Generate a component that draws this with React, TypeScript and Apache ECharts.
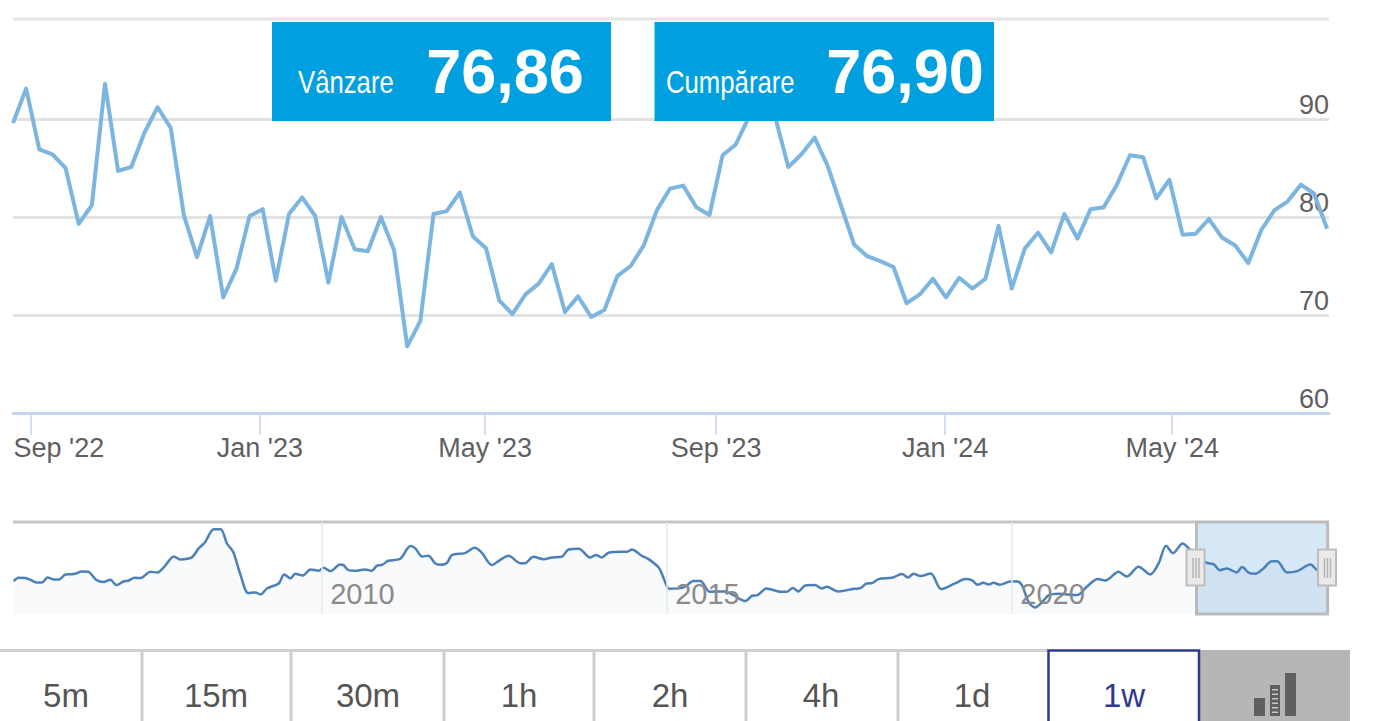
import React, { useEffect, useRef } from "react";
import * as echarts from "echarts";

const priceValues = [
  89.6, 93.1, 86.9, 86.4, 85.0, 79.3, 81.2, 93.6, 84.7, 85.1, 88.6, 91.2, 89.1, 80.2, 75.9, 80.1, 71.8,
  74.7, 80.1, 80.8, 73.5, 80.3, 82.0, 80.1, 73.3, 80.0, 76.7, 76.5, 80.0, 76.6, 66.8, 69.4, 80.3, 80.6,
  82.5, 78.0, 76.8, 71.5, 70.1, 72.1, 73.2, 75.2, 70.3, 71.9, 69.8, 70.5, 74.0, 75.0, 77.1, 80.7, 82.9,
  83.2, 81.0, 80.2, 86.3, 87.4, 90.2, 91.3, 90.2, 85.1, 86.4, 88.1, 85.2, 81.2, 77.2, 76.0, 75.5, 74.9,
  71.2, 72.1, 73.7, 71.8, 73.8, 72.7, 73.7, 79.1, 72.7, 76.8, 78.4, 76.4, 80.3, 77.8, 80.8, 81.0, 83.3,
  86.3, 86.1, 81.9, 83.8, 78.2, 78.3, 79.8, 77.9, 77.1, 75.3, 78.7, 80.7, 81.6, 83.3, 82.4, 78.8,
];
const xTickDates = [
  [2022, 8, 1],
  [2023, 0, 1],
  [2023, 4, 1],
  [2023, 8, 1],
  [2024, 0, 1],
  [2024, 4, 1],
];
const xTickLabels = ["Sep '22", "Jan '23", "May '23", "Sep '23", "Jan '24", "May '24"];
const yTickValues = [60, 70, 80, 90];

const navYears = [
  2005.53, 2005.6, 2005.7, 2005.77, 2005.86, 2005.94, 2006.02, 2006.11, 2006.19, 2006.28, 2006.4, 2006.52,
  2006.61, 2006.73, 2006.83, 2006.93, 2007.02, 2007.12, 2007.19, 2007.28, 2007.37, 2007.51, 2007.61, 2007.72,
  2007.85, 2007.94, 2008.11, 2008.21, 2008.3, 2008.43, 2008.53, 2008.62, 2008.71, 2008.81, 2008.93, 2009.03,
  2009.11, 2009.2, 2009.37, 2009.45, 2009.54, 2009.61, 2009.72, 2009.83, 2009.95, 2010.02, 2010.12, 2010.26,
  2010.31, 2010.38, 2010.5, 2010.62, 2010.72, 2010.79, 2010.87, 2010.96, 2011.13, 2011.28, 2011.35, 2011.45,
  2011.54, 2011.64, 2011.73, 2011.81, 2011.88, 2012.07, 2012.21, 2012.31, 2012.46, 2012.56, 2012.7, 2012.87,
  2012.94, 2013.06, 2013.21, 2013.33, 2013.47, 2013.57, 2013.72, 2013.88, 2013.97, 2014.05, 2014.15, 2014.32,
  2014.42, 2014.49, 2014.63, 2014.73, 2014.88, 2014.95, 2015.03, 2015.24, 2015.38, 2015.48, 2015.62, 2015.84,
  2015.96, 2016.13, 2016.23, 2016.31, 2016.44, 2016.64, 2016.73, 2016.82, 2016.9, 2017.0, 2017.14, 2017.24,
  2017.31, 2017.48, 2017.7, 2017.8, 2017.89, 2017.97, 2018.06, 2018.26, 2018.4, 2018.49, 2018.57, 2018.67,
  2018.82, 2018.97, 2019.17, 2019.32, 2019.42, 2019.5, 2019.58, 2019.66, 2019.73, 2019.82, 2019.97, 2020.07,
  2020.14, 2020.24, 2020.33, 2020.43, 2020.53, 2020.67, 2020.94, 2021.08, 2021.24, 2021.35, 2021.54, 2021.66,
  2021.83, 2022.0, 2022.12, 2022.23, 2022.33, 2022.47, 2022.56, 2022.72, 2022.82, 2022.92, 2023.01, 2023.11,
  2023.25, 2023.33, 2023.43, 2023.52, 2023.64, 2023.76, 2023.84, 2023.98, 2024.13, 2024.32, 2024.42, 2024.59,
];
const navValues = [
  62.9, 67.8, 67.3, 64.9, 61.0, 61.0, 68.2, 65.3, 65.3, 72.6, 73.1, 77.0,
  76.5, 64.4, 61.5, 64.9, 57.1, 62.4, 63.4, 67.8, 67.3, 76.5, 75.5, 84.7,
  98.8, 94.5, 97.4, 110.5, 119.2, 138.6, 138.6, 117.7, 105.6, 74.1, 45.4, 46.4,
  43.5, 52.2, 59.5, 72.6, 66.8, 73.6, 71.2, 79.9, 78.0, 82.3, 77.5, 87.2,
  86.2, 78.9, 78.0, 79.9, 78.0, 85.2, 86.7, 92.5, 95.4, 113.9, 110.5, 98.8,
  99.8, 88.6, 86.7, 89.6, 100.8, 103.7, 111.4, 104.6, 86.2, 92.5, 99.8, 89.1,
  89.1, 98.3, 94.9, 97.4, 98.3, 109.0, 110.0, 97.4, 100.8, 97.4, 104.2, 105.6,
  105.6, 109.0, 99.8, 94.9, 82.3, 66.8, 51.7, 53.7, 62.9, 62.9, 47.4, 47.9,
  42.5, 33.8, 41.6, 42.5, 52.2, 47.4, 47.4, 52.7, 47.9, 56.6, 57.1, 52.2,
  54.7, 47.9, 51.7, 52.7, 59.5, 60.0, 65.8, 67.8, 73.1, 68.2, 73.6, 70.2,
  74.1, 51.3, 59.5, 65.8, 63.9, 57.6, 60.5, 58.1, 60.5, 57.6, 62.4, 62.4,
  57.1, 31.9, 24.6, 31.9, 42.5, 44.5, 42.5, 54.7, 65.8, 63.9, 76.5, 69.7,
  83.8, 72.6, 88.6, 114.4, 103.7, 117.7, 110.5, 95.9, 89.6, 87.2, 78.9, 81.4,
  75.5, 83.3, 75.0, 73.6, 81.4, 92.0, 92.0, 75.5, 77.5, 87.2, 78.9, 76.5,
];
const navTickYears = [2010, 2015, 2020];
const navRange = [2022.67, 2024.57];

const buttonLabels = ["5m", "15m", "30m", "1h", "2h", "4h", "1d", "1w"];
const buttonEdges = [0, 142, 291, 444, 594, 746, 898, 1048, 1200];
const buttonCenters = [66, 216, 368, 519, 670, 821, 972, 1124];

const FONT = '"Liberation Sans", Arial, sans-serif';
const DAY = 86400000;

function quote(x: number, w: number, label: string, labelX: number, value: string, valueX: number) {
  return [
    { type: "rect", z: 50, shape: { x, y: 22, width: w, height: 99 }, style: { fill: "#009fdf" } },
    {
      type: "text", z: 51, x: labelX, y: 98, scaleX: 0.83,
      style: { text: label, fill: "#ffffff", font: `31px ${FONT}`, verticalAlign: "bottom", align: "left" },
    },
    {
      type: "text", z: 51, x: valueX, y: 71,
      style: { text: value, fill: "#ffffff", font: `bold 63px ${FONT}`, verticalAlign: "middle", align: "center" },
    },
  ];
}

function handle(x: number) {
  const w = 18;
  return [
    { type: "rect", z: 60, shape: { x, y: 549.5, width: w, height: 36 }, style: { fill: "#eaeaea", stroke: "#bdbdbd", lineWidth: 2 } },
    { type: "line", z: 61, shape: { x1: x + 6.5, y1: 558, x2: x + 6.5, y2: 578 }, style: { stroke: "#b5b5b5", lineWidth: 1.5 } },
    { type: "line", z: 61, shape: { x1: x + 9.5, y1: 558, x2: x + 9.5, y2: 578 }, style: { stroke: "#b5b5b5", lineWidth: 1.5 } },
    { type: "line", z: 61, shape: { x1: x + 12.5, y1: 558, x2: x + 12.5, y2: 578 }, style: { stroke: "#b5b5b5", lineWidth: 1.5 } },
  ];
}

function buttons() {
  const out: any[] = [
    { type: "line", z: 40, shape: { x1: 0, y1: 650.5, x2: 1048, y2: 650.5 }, style: { stroke: "#cfcfcf", lineWidth: 3 } },
    { type: "rect", z: 40, shape: { x: 1200, y: 650, width: 150, height: 71 }, style: { fill: "#b6b6b6" } },
    { type: "rect", z: 41, shape: { x: 1048.5, y: 650.5, width: 150.5, height: 80 }, style: { fill: "#ffffff", stroke: "#2f3a8c", lineWidth: 2.5 } },
    { type: "rect", z: 41, shape: { x: 1254, y: 698, width: 11, height: 18 }, style: { fill: "#5f5f5f" } },
    { type: "rect", z: 41, shape: { x: 1270, y: 685, width: 10, height: 31 }, style: { fill: "#5f5f5f" } },
    { type: "rect", z: 41, shape: { x: 1285, y: 673, width: 11, height: 43 }, style: { fill: "#5f5f5f" } },
  ];
  for (let y = 689; y < 714; y += 4.5) {
    out.push({ type: "rect", z: 42, shape: { x: 1272, y, width: 6, height: 1.5 }, style: { fill: "#c8c8c8" } });
  }
  buttonEdges.slice(1, 7).forEach((x) => {
    out.push({ type: "line", z: 40, shape: { x1: x, y1: 650, x2: x, y2: 721 }, style: { stroke: "#cfcfcf", lineWidth: 3 } });
  });
  buttonLabels.forEach((t, i) => {
    out.push({
      type: "text", z: 43, x: buttonCenters[i], y: 695,
      style: { text: t, fill: t === "1w" ? "#2f3a8c" : "#555555", font: `33px ${FONT}`, align: "center", verticalAlign: "middle" },
    });
  });
  return out;
}

export default function App() {
  const ref = useRef<HTMLDivElement>(null);
  useEffect(() => {
    const chart = echarts.init(ref.current!, undefined, { renderer: "svg" });
    const t0 = new Date(2022, 7, 22, 12).getTime();
    const priceData = priceValues.map((v, i) => [t0 + i * 7 * DAY, v]);
    const tickTimes = xTickDates.map(([y, m, d]) => new Date(y, m, d).getTime());
    const axisLabelColor = "#5f5f5f";

    chart.setOption({
      animation: false,
      backgroundColor: "#ffffff",
      grid: [
        { left: 13, top: 21, width: 1316, height: 392 },
        { left: 13, top: 522, width: 1316, height: 92 },
      ],
      xAxis: [
        {
          type: "value",
          gridIndex: 0,
          min: t0,
          max: t0 + 701 * DAY,
          axisLine: { show: true, lineStyle: { color: "#c6d6ea", width: 3 } },
          axisTick: { show: true, length: 22, customValues: tickTimes, lineStyle: { color: "#c6d6ea", width: 1.5 } },
          splitLine: { show: false },
          axisLabel: {
            show: true,
            customValues: tickTimes,
            margin: 21,
            hideOverlap: false,
            color: axisLabelColor,
            fontFamily: FONT,
            fontSize: 27,
            formatter: (v: number) => {
              const i = tickTimes.indexOf(v);
              const t = xTickLabels[i] ?? "";
              return i === 0 ? `{first|${t}}` : t;
            },
            rich: { first: { color: axisLabelColor, fontFamily: FONT, fontSize: 27, padding: [0, 0, 0, 56] } },
          },
        },
        {
          type: "value",
          gridIndex: 1,
          z: 10,
          min: 2005.52,
          max: 2024.59,
          axisLine: { show: false },
          axisTick: { show: false, customValues: navTickYears },
          splitLine: { show: true, lineStyle: { color: "#e6e8ea", width: 1.5 } },
          axisLabel: {
            show: true,
            customValues: navTickYears,
            inside: true,
            margin: 6,
            align: "left",
            color: "#8a8a8a",
            fontFamily: FONT,
            fontSize: 29,
            padding: [0, 0, 0, 8],
            formatter: (v: number) => String(v),
          },
        },
      ],
      yAxis: [
        {
          type: "value",
          gridIndex: 0,
          position: "right",
          min: 60,
          max: 100,
          interval: 10,
          axisLine: { show: false },
          axisTick: { show: false },
          splitLine: { show: true, showMaxLine: false, lineStyle: { color: "#e2e2e2", width: 3 } },
          axisLabel: {
            inside: true,
            margin: 0,
            customValues: yTickValues,
            verticalAlign: "bottom",
            padding: [0, 0, 1, 0],
            color: axisLabelColor,
            fontFamily: FONT,
            fontSize: 27,
          },
        },
        { type: "value", gridIndex: 1, min: 15, max: 149, show: false, splitLine: { show: false } },
      ],
      series: [
        {
          type: "line",
          xAxisIndex: 0,
          yAxisIndex: 0,
          data: priceData,
          showSymbol: false,
          silent: true,
          lineStyle: { color: "#7cb5e0", width: 4, join: "round" },
        },
        {
          type: "line",
          xAxisIndex: 1,
          yAxisIndex: 1,
          data: navYears.map((y, i) => [y, navValues[i]]),
          showSymbol: false,
          silent: true,
          smooth: 0.3,
          lineStyle: { color: "#4c80b8", width: 2.5 },
          areaStyle: { color: "rgba(76,128,184,0.04)", opacity: 1 },
          markArea: {
            silent: true,
            itemStyle: { color: "#d6e7f5", borderColor: "#bcbcbc", borderWidth: 3 },
            data: [[{ xAxis: navRange[0], yAxis: 149 }, { xAxis: navRange[1], yAxis: 15 }]],
          },
        },
      ],
      graphic: {
        elements: [
          { type: "line", z: 5, shape: { x1: 13, y1: 19, x2: 1329, y2: 19 }, style: { stroke: "#e6e6e6", lineWidth: 3 } },
          { type: "line", z: 5, shape: { x1: 13, y1: 522, x2: 1196, y2: 522 }, style: { stroke: "#c6c6c6", lineWidth: 3 } },
          ...quote(272, 339, "Vânzare", 298, "76,86", 505),
          ...quote(654.5, 339.5, "Cumpărare", 666, "76,90", 905),
          ...handle(1186.5),
          ...handle(1318),
          ...buttons(),
        ],
      },
    });
    return () => chart.dispose();
  }, []);
  return <div ref={ref} style={{ position: "absolute", left: 0, top: 0, width: 1377, height: 721 }} />;
}
